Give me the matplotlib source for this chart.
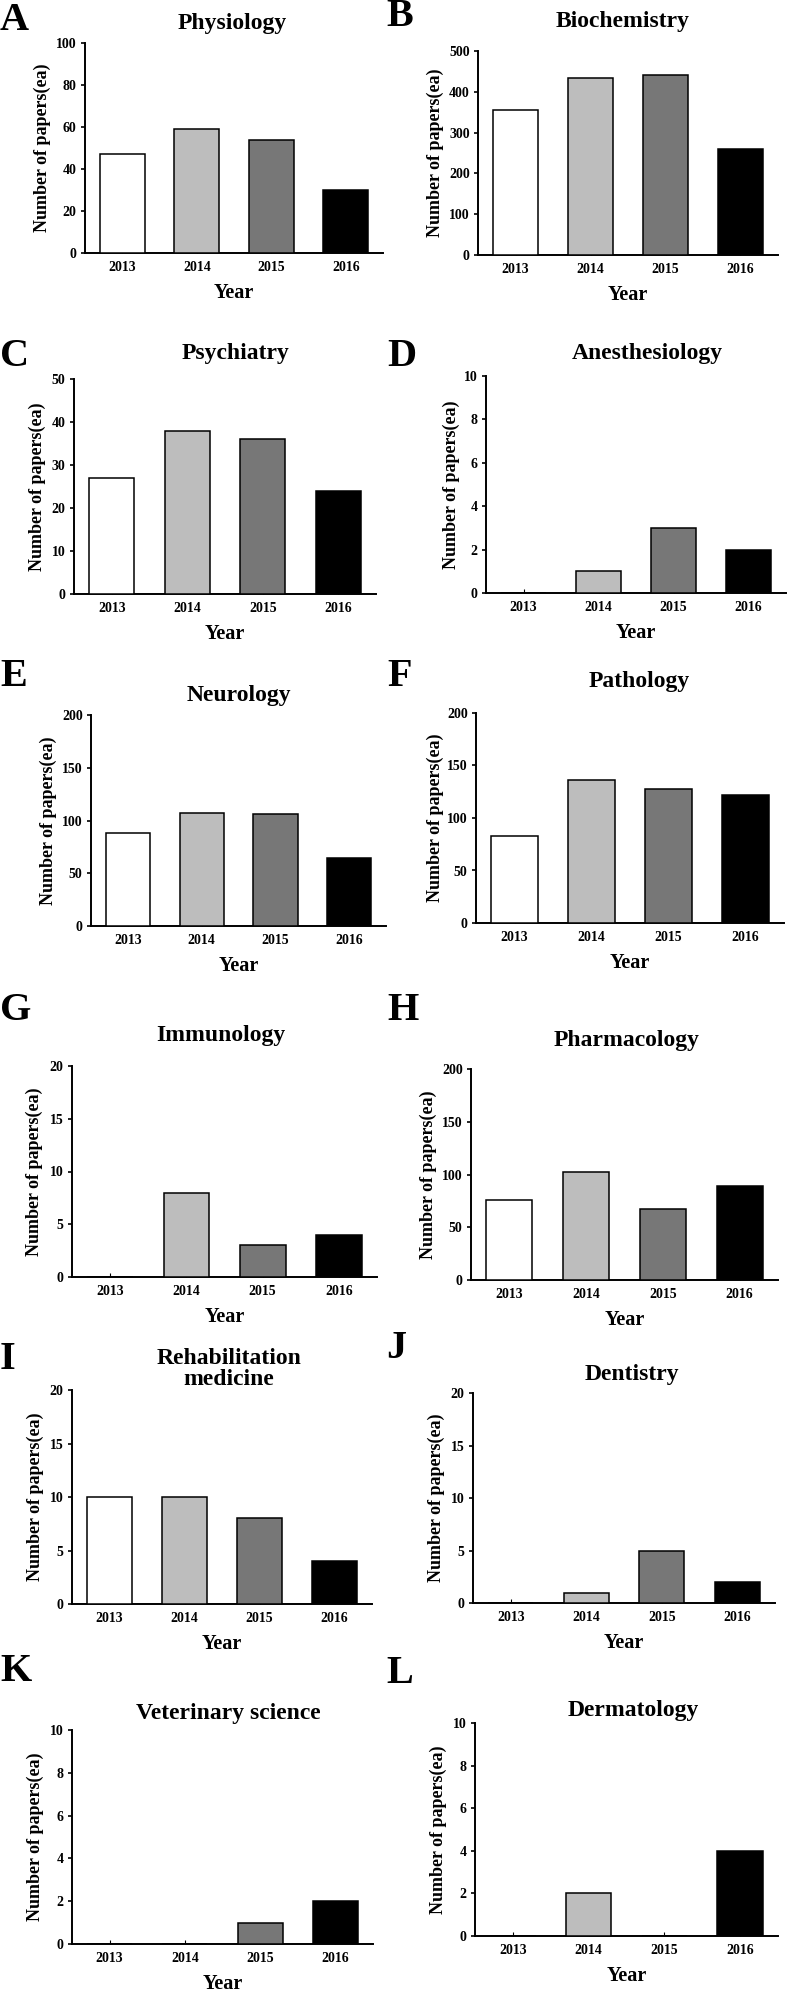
import numpy as np
import matplotlib
matplotlib.use("Agg")
import matplotlib.pyplot as plt

plt.rcParams['font.family'] = ['Liberation Serif', 'DejaVu Serif']
plt.rcParams['font.weight'] = 'bold'

W, H = 789, 1992

years = ['2013', '2014', '2015', '2016']
bar_colors = ['#ffffff', '#bdbdbd', '#777777', '#000000']

letters = ['A', 'B', 'C', 'D', 'E', 'F', 'G', 'H', 'I', 'J', 'K', 'L']
titles = ['Physiology', 'Biochemistry', 'Psychiatry', 'Anesthesiology',
          'Neurology', 'Pathology', 'Immunology', 'Pharmacology',
          'Rehabilitation\nmedicine', 'Dentistry', 'Veterinary science', 'Dermatology']

physiology = [47, 59, 54, 30]
biochemistry = [355, 435, 440, 259]
psychiatry = [27, 38, 36, 24]
anesthesiology = [0, 1, 3, 2]
neurology = [88, 107, 106, 64]
pathology = [83, 136, 128, 122]
immunology = [0, 8, 3, 4]
pharmacology = [76, 102, 67, 89]
rehabilitation = [10, 10, 8, 4]
dentistry = [0, 1, 5, 2]
veterinary = [0, 0, 1, 2]
dermatology = [0, 2, 0, 4]
series = [physiology, biochemistry, psychiatry, anesthesiology, neurology, pathology,
          immunology, pharmacology, rehabilitation, dentistry, veterinary, dermatology]

y_max = [100, 500, 50, 10, 200, 200, 20, 200, 20, 20, 10, 10]
y_step = [20, 100, 10, 2, 50, 50, 5, 50, 5, 5, 2, 2]

# pixel layout: axes (left, right, top, bottom), title centre, letter centre, ylabel offset
ax_box = [(85, 383, 43, 253), (478, 778, 51, 255),
          (74, 376, 379, 594), (486, 786, 376, 593),
          (91, 386, 715, 926), (476, 784, 713, 923),
          (72, 377, 1066, 1277), (471, 778, 1069, 1280),
          (72, 372, 1390, 1604), (473, 775, 1393, 1603),
          (72, 373, 1730, 1944), (475, 778, 1723, 1936)]
title_pos = [(232, 23), (623, 22), (236, 353), (647, 353),
             (239, 696), (639, 681), (221, 1035), (627, 1040),
             (229, 1369), (632, 1374), (228, 1713), (633, 1710)]
letter_pos = [(0, 20), (386, 17), (0, 356), (387, 357),
              (0, 677), (387, 677), (0, 1010), (387, 1010),
              (0, 1359), (386, 1348), (0, 1671), (386, 1673)]
ylab_off = [43, 43, 37, 35, 43, 41, 38, 43, 37, 37, 37, 37]

fig = plt.figure(figsize=(W / 100, H / 100), dpi=100)

for i in range(12):
    l, r, t, b = ax_box[i]
    ax = fig.add_axes([l / W, 1 - b / H, (r - l) / W, (b - t) / H])
    x = np.arange(len(years))
    ax.bar(x, series[i], width=0.6, color=bar_colors, edgecolor='black', linewidth=1.1, zorder=3)
    ax.set_xlim(-0.5, 3.5)
    ax.set_ylim(0, y_max[i])
    ax.set_yticks(np.arange(0, y_max[i] + 1, y_step[i]))
    ax.set_xticks(x)
    ax.set_xticklabels(years)
    ax.spines['top'].set_visible(False)
    ax.spines['right'].set_visible(False)
    ax.spines['left'].set_linewidth(1.4)
    ax.spines['bottom'].set_linewidth(1.4)
    ax.tick_params(axis='y', direction='out', length=3, width=1.2, pad=3, labelsize=10)
    ax.tick_params(axis='x', direction='in', length=3, width=0.8, pad=6, labelsize=10)
    for lab in ax.get_xticklabels() + ax.get_yticklabels():
        lab.set_fontweight('bold')

    fig.text(title_pos[i][0] / W, 1 - title_pos[i][1] / H, titles[i], ha='center', va='center',
             fontsize=17, fontweight='bold', linespacing=1.0)
    fig.text(letter_pos[i][0] / W, 1 - letter_pos[i][1] / H, letters[i], ha='left', va='center',
             fontsize=29, fontweight='bold')
    fig.text((l - ylab_off[i]) / W, 1 - (t + b) / 2 / H, 'Number of papers(ea)', rotation=90,
             ha='center', va='center', fontsize=13, fontweight='bold')
    fig.text((l + r) / 2 / W, 1 - (b + 40) / H, 'Year', ha='center', va='center',
             fontsize=14.5, fontweight='bold')

fig.savefig('out.png', dpi=100)
